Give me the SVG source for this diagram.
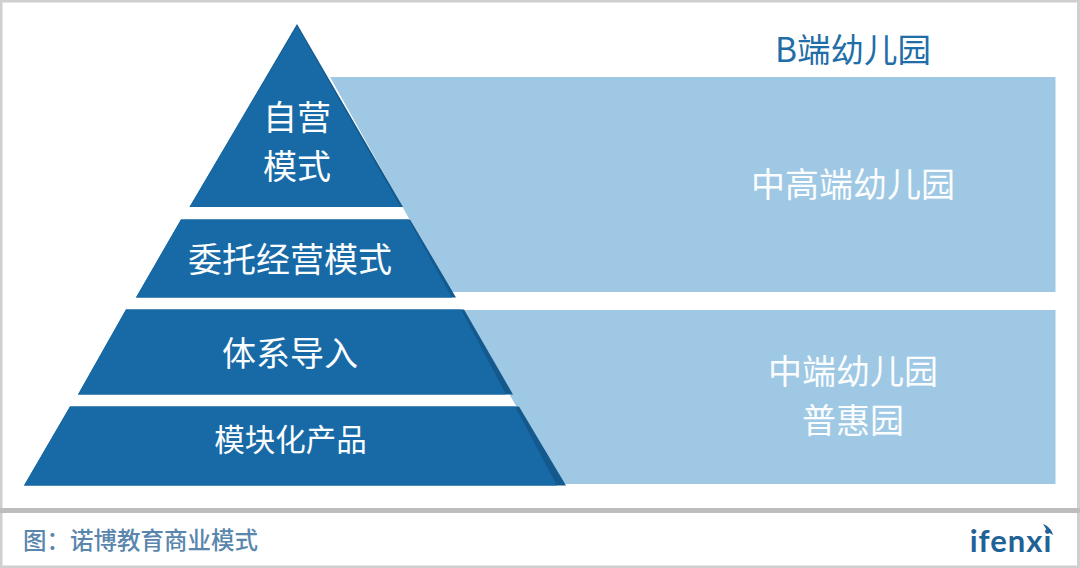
<svg xmlns="http://www.w3.org/2000/svg" width="1080" height="568" viewBox="0 0 1080 568">
<style>
text{font-family:"Noto Sans CJK SC","Liberation Sans",sans-serif;text-anchor:middle}
.w{fill:#fbfdfe}
.p{fill:#176aa6}
.s{fill:#13598d}
.l{fill:#9fc8e4}
.f{font-size:34px}
</style>
<rect width="1080" height="568" fill="#fff"/>
<g id="frame" fill="#cfcfcf">
<rect width="1080" height="2.5"/><rect width="2.5" height="568"/><rect x="1077" width="3" height="568"/><rect y="565.5" width="1080" height="2.5"/>
<rect y="508" width="1080" height="5" fill="#bdbdbd"/>
</g>
<g id="panel-top"><polygon class="l" points="330,77 1055.500,77 1055.500,292 450,292"/></g>
<g id="panel-bottom"><polygon class="l" points="462,310 1055.500,310 1055.500,484 560,484"/></g>
<g id="tier-1">
<polygon class="s" points="297,24 403,207 189.500,207"/>
<polygon class="p" points="297,26 400.500,207 189.500,207"/>
<text class="w f" x="297" y="130">自营</text><text class="w f" x="297" y="179">模式</text>
</g>
<g id="tier-2">
<polygon class="s" points="181,219.500 410,219.500 456,297.500 136,297.500"/>
<polygon class="p" points="181,219.500 408.500,219.500 452,297.500 136,297.500"/>
<text class="w f" x="290" y="272">委托经营模式</text>
</g>
<g id="tier-3">
<polygon class="s" points="126,309.500 464,309.500 513,394.500 78,394.500"/>
<polygon class="p" points="126,309.500 461,309.500 506,394.500 78,394.500"/>
<text class="w f" x="290" y="366">体系导入</text>
</g>
<g id="tier-4">
<polygon class="s" points="70,406.500 519,406.500 566,485.500 24,485.500"/>
<polygon class="p" points="70,406.500 515,406.500 557,485.500 24,485.500"/>
<text class="w" font-size="30.500" x="290.500" y="451">模块化产品</text>
</g>
<g id="labels">
<text font-size="33.500" fill="#1f6ea8" x="853" y="62">B端幼儿园</text>
<text class="w f" x="853" y="197">中高端幼儿园</text>
<text class="w f" x="853" y="384">中端幼儿园</text>
<text class="w f" x="853" y="433">普惠园</text>
</g>
<g id="caption"><text font-size="23.500" font-weight="500" fill="#5a86ad" x="140.500" y="549">图：诺博教育商业模式</text></g>
<g id="logo">
<text style="font-family:Lato,'Open Sans',sans-serif" font-size="31" font-weight="700" letter-spacing="1" fill="#1f6296" x="1011" y="552">ifenxi</text>
<path d="M1043 524 C1048 526 1052 530 1053 535 L1048 532 Z" fill="#1f6296"/>
</g>
</svg>
